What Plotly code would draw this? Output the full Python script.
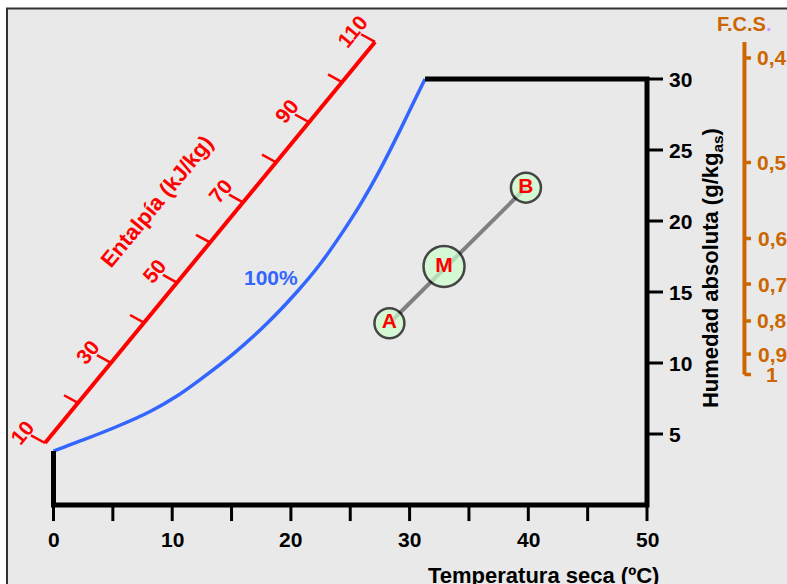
import plotly.graph_objects as go

FONT = "Liberation Sans, Arial, sans-serif"

# ---------------- data ----------------
temp_ticks = [0, 10, 20, 30, 40, 50]
temp_minor = [5, 15, 25, 35, 45]
w_ticks = [5, 10, 15, 20, 25, 30]

# saturation curve (100 % RH): dry-bulb T (ºC), W (g/kg)
sat_T = [0, 2.5, 5.3, 8.1, 10.4, 12.3, 15.2, 18.0, 20.5, 22.4, 24.1, 25.8, 27.5, 29.2, 30.3, 31.3]
sat_W = [3.8, 4.58, 5.51, 6.57, 7.68, 8.8, 10.68, 12.8, 15.0, 16.9, 18.9, 21.1, 23.6, 26.4, 28.3, 30.0]

# chart boundary
boundary_T = [0, 0, 50, 50, 31.3]
boundary_W = [3.8, 0, 0, 30, 30]

# states
point_names = ["A", "M", "B"]
point_T = [28.3, 32.9, 39.8]
point_W = [12.8, 16.8, 22.35]

# enthalpy scale (kJ/kg)
enth_ticks = [10, 20, 30, 40, 50, 60, 70, 80, 90, 100, 110]
enth_labels = [10, 30, 50, 70, 90, 110]
enth_h0, enth_h1 = 10, 110
enth_p0 = (-0.716, 4.366)   # (T, W) of h = 10
enth_p1 = (27.09, 32.61)    # (T, W) of h = 110

# sensible heat factor scale
fcs_labels = ["0,4", "0,5", "0,6", "0,7", "0,8", "0,9", "1"]
fcs_pos = [31.48, 24.12, 18.77, 15.56, 12.96, 10.63, 9.19]
fcs_T = 58.21
fcs_top, fcs_bottom = 32.61, 9.19

# ---------------- styles ----------------
RED = "#ff0000"
BLUE = "#3366ff"
ORANGE = "#cc6600"
XR = [-4.507, 61.794]
YR = [-5.563, 35.563]
TICK_SIZE = 21
TITLE_SIZE = 22

fig = go.Figure()

def seg_trace(xs, ys, color, width):
    fig.add_trace(go.Scatter(x=xs, y=ys, mode="lines", hoverinfo="skip",
                             line=dict(color=color, width=width)))

# enthalpy axis
def hpos(h):
    f = (h - enth_h0) / (enth_h1 - enth_h0)
    return (enth_p0[0] + f * (enth_p1[0] - enth_p0[0]),
            enth_p0[1] + f * (enth_p1[1] - enth_p0[1]))

seg_trace([enth_p0[0], enth_p1[0]], [enth_p0[1], enth_p1[1]], RED, 4)
tx, ty = [], []
for h in enth_ticks:
    x, y = hpos(h)
    tx += [x, x - 1.18, None]
    ty += [y, y + 0.54, None]
seg_trace(tx, ty, RED, 2.5)

annotations = []
for h in enth_labels:
    x, y = hpos(h)
    annotations.append(dict(x=x - 1.94, y=y + 0.77, xref="x", yref="y",
                            text=f"<b>{h}</b>", showarrow=False, textangle=-50.55,
                            font=dict(family=FONT, size=TICK_SIZE, color=RED)))
annotations.append(dict(x=8.72, y=21.34, xref="x", yref="y", text="<b>Entalpía (kJ/kg)</b>",
                        showarrow=False, textangle=-50.55,
                        font=dict(family=FONT, size=TITLE_SIZE, color=RED)))

# saturation curve
fig.add_trace(go.Scatter(x=sat_T, y=sat_W, mode="lines", hoverinfo="skip",
                         line=dict(color=BLUE, width=3.5, shape="spline", smoothing=0.8)))
annotations.append(dict(x=18.36, y=16.02, xref="x", yref="y", text="<b>100%</b>",
                        showarrow=False, font=dict(family=FONT, size=TICK_SIZE, color=BLUE)))

# boundary / axes
seg_trace(boundary_T, boundary_W, "black", 5)
tx, ty = [], []
for t in temp_ticks + temp_minor:
    tx += [t, t, None]
    ty += [0, -1.13, None]
seg_trace(tx, ty, "black", 3)
tx, ty = [], []
for w in w_ticks:
    tx += [50, 51.35, None]
    ty += [w, w, None]
seg_trace(tx, ty, "black", 3)

for t in temp_ticks:
    annotations.append(dict(x=t, y=-2.46, xref="x", yref="y", text=f"<b>{t}</b>",
                            showarrow=False, font=dict(family=FONT, size=TICK_SIZE, color="black")))
for w in w_ticks:
    annotations.append(dict(x=51.7, y=w, xref="x", yref="y", text=f"<b>{w}</b>",
                            xanchor="left", showarrow=False,
                            font=dict(family=FONT, size=TICK_SIZE, color="black")))
annotations.append(dict(x=41.24, y=-4.93, xref="x", yref="y", text="<b>Temperatura seca (ºC)</b>",
                        showarrow=False, font=dict(family=FONT, size=TITLE_SIZE, color="black")))
annotations.append(dict(x=55.48, y=16.69, xref="x", yref="y",
                        text="<b>Humedad absoluta (g/kg<sub>as</sub>)</b>", textangle=-90,
                        showarrow=False, font=dict(family=FONT, size=TITLE_SIZE, color="black")))

# process line and states
fig.add_trace(go.Scatter(x=[point_T[0], point_T[2]], y=[point_W[0], point_W[2]], mode="lines",
                         hoverinfo="skip", line=dict(color="#808080", width=4)))
fig.add_trace(go.Scatter(x=point_T, y=point_W, mode="markers+text",
                         text=[f"<b>{n}</b>" for n in point_names], textposition="middle center",
                         textfont=dict(family=FONT, size=TICK_SIZE, color=RED),
                         marker=dict(size=[30, 41, 30], color="#ccffcc",
                                     line=dict(color="black", width=2.5)),
                         hoverinfo="skip"))

# FCS scale
seg_trace([fcs_T, fcs_T], [fcs_top, fcs_bottom], ORANGE, 4)
tx, ty = [], []
for p in fcs_pos:
    tx += [fcs_T, fcs_T + 0.55, None]
    ty += [p, p, None]
seg_trace(tx, ty, ORANGE, 3.5)
for lab, p in zip(fcs_labels, fcs_pos):
    annotations.append(dict(x=60.53, y=p, xref="x", yref="y", text=f"<b>{lab}</b>",
                            showarrow=False, font=dict(family=FONT, size=TICK_SIZE, color=ORANGE)))
annotations.append(dict(x=58.17, y=33.84, xref="x", yref="y",
                        text="<b>F.C.S<span style='color:#cc99ff'>.</span></b>",
                        showarrow=False, font=dict(family=FONT, size=20, color=ORANGE)))

fig.update_layout(
    width=787, height=584,
    margin=dict(l=0, r=0, t=0, b=0, pad=0),
    paper_bgcolor="white", plot_bgcolor="rgba(0,0,0,0)",
    showlegend=False,
    xaxis=dict(visible=False, range=XR, fixedrange=True),
    yaxis=dict(visible=False, range=YR, fixedrange=True),
    annotations=annotations,
    shapes=[dict(type="rect", xref="paper", yref="paper", x0=7 / 787, x1=1.05,
                 y0=-0.05, y1=1 - 8.5 / 584, fillcolor="#e9e9e9",
                 line=dict(color="#333333", width=2), layer="below")],
)

fig.write_html("out.html", config={"displayModeBar": False},
               post_script="document.body.style.margin='0';document.body.style.overflow='hidden';")
